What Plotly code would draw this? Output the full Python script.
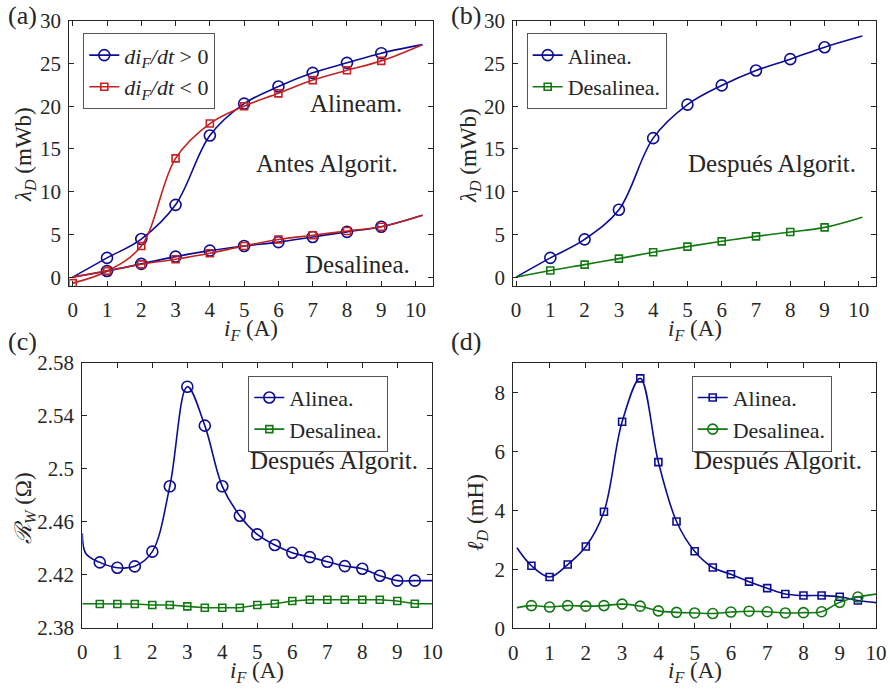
import plotly.graph_objects as go

# ---------------- data ----------------
# (a) before algorithm
ia = [0, 1, 2, 3, 4, 5, 6, 7, 8, 9, 10.2]
a_up_al = [0, 2.25, 4.46, 8.46, 16.57, 20.3, 22.3, 23.9, 25.07, 26.2, 27.2]
a_dn_al = [-0.7, 0.7, 3.65, 13.9, 17.97, 20.0, 21.5, 23.05, 24.2, 25.3, 27.2]
a_up_des = [0, 0.72, 1.55, 2.4, 3.1, 3.65, 4.1, 4.7, 5.3, 5.9, 7.25]
a_dn_des = [0, 0.75, 1.5, 2.1, 2.8, 3.65, 4.4, 4.9, 5.4, 5.9, 7.25]

# (b) after algorithm
ib = [0, 1, 2, 3, 4, 5, 6, 7, 8, 9, 10.1]
b_al = [0, 2.25, 4.42, 7.88, 16.26, 20.18, 22.43, 24.18, 25.5, 26.9, 28.2]
b_des = [0, 0.78, 1.47, 2.17, 2.91, 3.57, 4.19, 4.77, 5.28, 5.82, 7.02]

# (c) winding resistance
ic_al = [0, 0.1, 0.5, 1, 1.5, 2, 2.5, 3, 3.5, 4, 4.5, 5, 5.5, 6, 6.5, 7, 7.5, 8, 8.5, 9, 9.5, 10]
c_al = [2.4512, 2.436, 2.4293, 2.4253, 2.4263, 2.4374, 2.4867, 2.5619, 2.5325, 2.4867, 2.4645,
        2.4504, 2.4424, 2.4366, 2.4333, 2.4298, 2.4265, 2.4245, 2.4192, 2.4155, 2.4155, 2.4155]
ic_des = [0, 0.5, 1, 1.5, 2, 2.5, 3, 3.5, 4, 4.5, 5, 5.5, 6, 6.5, 7, 7.5, 8, 8.5, 9, 9.5, 10]
c_des = [2.3981, 2.3979, 2.3979, 2.3979, 2.3971, 2.3971, 2.3961, 2.3951, 2.3951, 2.3951, 2.3971,
         2.3981, 2.4001, 2.4011, 2.4011, 2.4011, 2.4011, 2.4011, 2.4001, 2.3981, 2.3981]

# (d) incremental inductance
idd = [0.1, 0.5, 1, 1.5, 2, 2.5, 3, 3.5, 4, 4.5, 5, 5.5, 6, 6.5, 7, 7.5, 8, 8.5, 9, 9.5, 10]
d_al = [2.73, 2.12, 1.74, 2.16, 2.77, 3.95, 7.0, 8.47, 5.63, 3.62, 2.61, 2.06, 1.83, 1.58, 1.36,
        1.16, 1.11, 1.11, 1.07, 0.94, 0.87]
d_des = [0.70, 0.77, 0.72, 0.77, 0.75, 0.77, 0.82, 0.75, 0.59, 0.54, 0.52, 0.50, 0.55, 0.58, 0.56,
         0.52, 0.53, 0.56, 0.88, 1.06, 1.16]

xticks_ab = [0, 1, 2, 3, 4, 5, 6, 7, 8, 9, 10]
yticks_ab = [0, 5, 10, 15, 20, 25, 30]
yticks_c = [2.38, 2.42, 2.46, 2.5, 2.54, 2.58]
yticks_c_txt = ["2.38", "2.42", "2.46", "2.5", "2.54", "2.58"]
yticks_d = [0, 2, 4, 6, 8]

# ---------------- style ----------------
BLUE = "#0c0c94"
RED = "#c42121"
GREEN = "#127812"
FONT = "Liberation Serif"
TXT = "#262626"

fig = go.Figure()


def add_series(x, y, color, symbol, size, xa, ya, name, legend, marked, spline=True):
    fig.add_trace(go.Scatter(
        x=x, y=y, mode="lines", xaxis=xa, yaxis=ya, showlegend=False,
        line=dict(color=color, width=1.6, shape="spline" if spline else "linear", smoothing=1.0),
        hoverinfo="skip"))
    mx = [x[i] for i in marked]
    my = [y[i] for i in marked]
    fig.add_trace(go.Scatter(
        x=mx, y=my, mode="markers", xaxis=xa, yaxis=ya, showlegend=False,
        marker=dict(symbol=symbol, size=size, color=color, line=dict(color=color, width=1.6))))
    if name:
        fig.add_trace(go.Scatter(
            x=[None], y=[None], mode="lines+markers", xaxis=xa, yaxis=ya, name=name,
            legend=legend, showlegend=True,
            line=dict(color=color, width=1.6),
            marker=dict(symbol=symbol, size=size, color=color, line=dict(color=color, width=1.6))))


CIRC = 11
SQ = 7

# (a)
lg_up = "<i>di</i><sub><i>F</i></sub><i>/dt</i> &gt; 0"
lg_dn = "<i>di</i><sub><i>F</i></sub><i>/dt</i> &lt; 0"
add_series(ia, a_up_al, BLUE, "circle-open", CIRC, "x", "y", lg_up, "legend", list(range(1, 10)))
add_series(ia, a_dn_al, RED, "square-open", SQ, "x", "y", lg_dn, "legend", list(range(0, 10)))
add_series(ia, a_up_des, BLUE, "circle-open", CIRC, "x", "y", None, None, list(range(1, 10)))
add_series(ia, a_dn_des, RED, "square-open", SQ, "x", "y", None, None, list(range(1, 10)))

# (b)
add_series(ib, b_al, BLUE, "circle-open", CIRC, "x2", "y2", "Alinea.", "legend2", list(range(1, 10)))
add_series(ib, b_des, GREEN, "square-open", SQ, "x2", "y2", "Desalinea.", "legend2", list(range(1, 10)))

# (c)
add_series(ic_al, c_al, BLUE, "circle-open", CIRC, "x3", "y3", "Alinea.", "legend3", list(range(2, 21)))
add_series(ic_des, c_des, GREEN, "square-open", SQ, "x3", "y3", "Desalinea.", "legend3", list(range(1, 20)), spline=False)

# (d)
add_series(idd, d_al, BLUE, "square-open", SQ, "x4", "y4", "Alinea.", "legend4", list(range(1, 20)))
add_series(idd, d_des, GREEN, "circle-open", 10, "x4", "y4", "Desalinea.", "legend4", list(range(1, 20)))

tick_font = dict(family=FONT, size=21, color=TXT)
axis_common = dict(showline=True, linecolor=TXT, linewidth=1, mirror="ticks", ticks="inside",
                   ticklen=5, tickcolor=TXT, tickwidth=1, showgrid=False, zeroline=False,
                   tickfont=tick_font)
xax = dict(axis_common, ticklabelstandoff=5)
yax = dict(axis_common, ticklabelstandoff=3)

W, H = 890, 689


def px(x0, x1):
    return [x0 / W, x1 / W]


def py(top, bot):
    return [1 - bot / H, 1 - top / H]


fig.update_layout(
    xaxis=dict(xax, domain=px(69.3, 432.7), range=[-0.1, 10.5], tickvals=xticks_ab, anchor="y"),
    yaxis=dict(yax, domain=py(20.7, 285.7), range=[-1, 30], tickvals=yticks_ab, anchor="x"),
    xaxis2=dict(xax, domain=px(513.3, 876), range=[-0.08, 10.5], tickvals=xticks_ab, anchor="y2"),
    yaxis2=dict(yax, domain=py(20.7, 285.7), range=[-1, 30], tickvals=yticks_ab, anchor="x2"),
    xaxis3=dict(xax, domain=px(82.3, 432.3), range=[0, 10], tickvals=xticks_ab, anchor="y3"),
    yaxis3=dict(yax, domain=py(362.7, 627.7), range=[2.38, 2.58], tickvals=yticks_c,
                ticktext=yticks_c_txt, anchor="x3"),
    xaxis4=dict(xax, domain=px(513.3, 876), range=[0, 10], tickvals=xticks_ab, anchor="y4"),
    yaxis4=dict(yax, domain=py(362.7, 628.3), range=[0, 9], tickvals=yticks_d, anchor="x4"),
    width=W, height=H, margin=dict(l=0, r=0, t=0, b=0, autoexpand=False),
    paper_bgcolor="white", plot_bgcolor="white",
    font=dict(family=FONT, color=TXT),
)

leg_common = dict(bgcolor="white", bordercolor="#555555", borderwidth=1,
                  font=dict(family=FONT, size=22, color=TXT), xanchor="left", yanchor="top",
                  tracegroupgap=0, itemclick=False)
fig.update_layout(
    legend=dict(leg_common, x=83.3 / W, y=1 - 33.3 / H),
    legend2=dict(leg_common, x=526.7 / W, y=1 - 33.3 / H),
    legend3=dict(leg_common, x=248.3 / W, y=1 - 375.7 / H),
    legend4=dict(leg_common, x=691.7 / W, y=1 - 375.7 / H),
)

ann = []


def text(x, y, s, size=25, rot=0):
    ann.append(dict(x=x / W, y=1 - y / H, xref="paper", yref="paper", text=s, showarrow=False,
                    font=dict(family=FONT, size=size, color=TXT), textangle=rot,
                    xanchor="center", yanchor="middle"))


text(356, 104, "Alineam.")
text(327, 163, "Antes Algorit.")
text(357, 264, "Desalinea.")
text(772, 163, "Después Algorit.")
text(334, 460, "Después Algorit.")
text(778, 460, "Después Algorit.")
text(22, 15, "(a)", 26)
text(466, 15, "(b)", 26)
text(22, 341, "(c)", 26)
text(466, 341, "(d)", 26)
# axis titles
xl = "<i>i</i><sub><i>F</i></sub> (A)"
text(251, 330, xl, 23)
text(695, 330, xl, 23)
text(257, 672, xl, 23)
text(695, 672, xl, 23)
text(25, 155, "<i>λ</i><sub><i>D</i></sub> (mWb)", 23, -90)
text(470, 155, "<i>λ</i><sub><i>D</i></sub> (mWb)", 23, -90)
text(25, 508, "<i>ℛ</i><sub><i>W</i></sub> (Ω)", 23, -90)
text(477, 512, "<i>ℓ</i><sub><i>D</i></sub> (mH)", 23, -90)
fig.update_layout(annotations=ann)

fig.write_html("out.html", config={"displayModeBar": False},
               post_script="document.body.style.margin='0';")
